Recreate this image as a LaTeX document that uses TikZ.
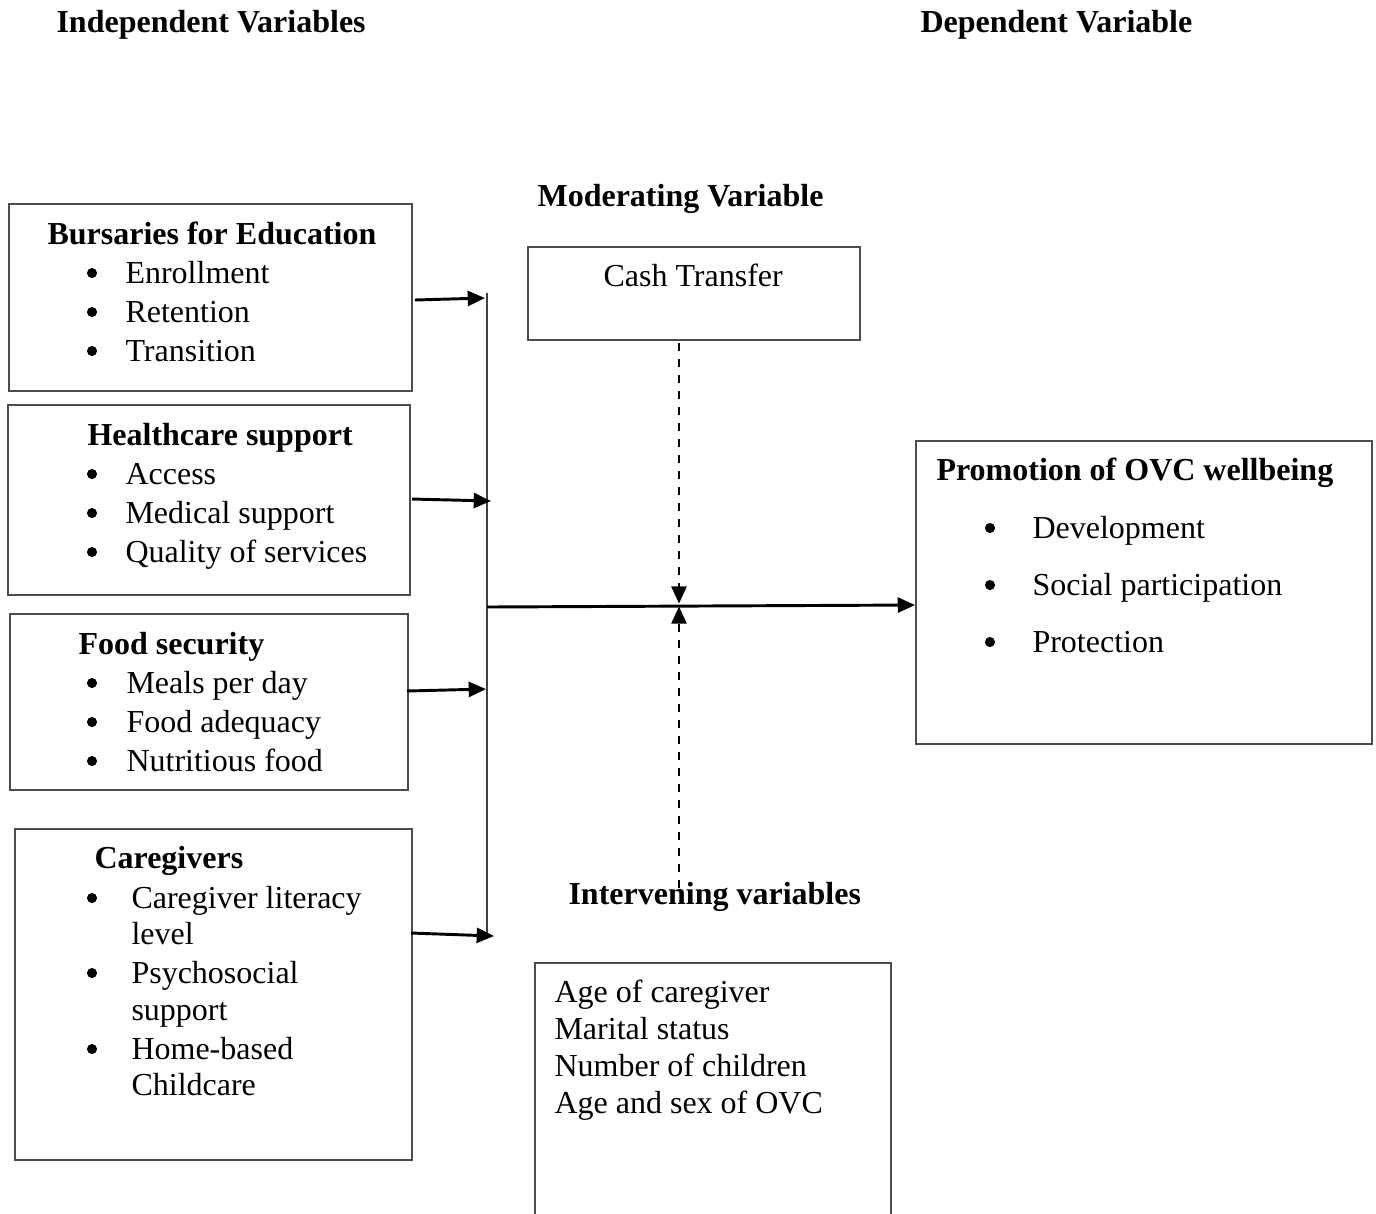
\documentclass[tikz,border=0pt]{standalone}
\usepackage{fontspec}
\setmainfont{Liberation Serif}
\usetikzlibrary{arrows.meta,fit}
\tikzset{
  box/.style={draw=black!70, line width=0.7pt, inner sep=0pt},
  txt/.style={anchor=base west, inner sep=0pt, font=\fontsize{12}{14}\selectfont, yshift=-0.4pt},
  hd/.style={txt, font=\fontsize{12}{14}\selectfont\bfseries},
  bul/.style={circle, fill=black, inner sep=0pt, minimum size=3.8pt},
  arr/.style={line width=1.1pt, -{Triangle[length=6.5pt,width=5.6pt]}},
  dsh/.style={line width=1.1pt, dash pattern=on 3pt off 3pt, -{Triangle[length=6.5pt,width=5.6pt]}},
  vline/.style={draw=black!75, line width=0.7pt}
}
\begin{document}
\begin{tikzpicture}[x=0.375pt,y=-0.375pt]
\clip (0,0) rectangle (1376,1213);
\fill[white] (0,0) rectangle (1376,1213);

% headings
\node[hd] (hind) at (56,31) {Independent Variables};
\node[hd] (hdep) at (920,31) {Dependent Variable};
\node[hd] (hmod) at (537,205) {Moderating Variable};
\node[hd] (hint) at (568,903) {Intervening variables};

% box 1
\node[box, fit={(9,204) (412,391)}] (b1) {};
\node[hd] (t1) at (47,243) {Bursaries for Education};
\node[bul] (b1a) at (92,273) {}; \node[txt] (i1a) at (125,282) {Enrollment};
\node[bul] (b1b) at (92,312) {}; \node[txt] (i1b) at (125,321) {Retention};
\node[bul] (b1c) at (92,351) {}; \node[txt] (i1c) at (125,360) {Transition};

% box 2
\node[box, fit={(8,405) (410,595)}] (b2) {};
\node[hd] (t2) at (87,444) {Healthcare support};
\node[bul] (b2a) at (92,474) {}; \node[txt] (i2a) at (125,483) {Access};
\node[bul] (b2b) at (92,513) {}; \node[txt] (i2b) at (125,522) {Medical support};
\node[bul] (b2c) at (92,552) {}; \node[txt] (i2c) at (125,561) {Quality of services};

% box 3
\node[box, fit={(10,614) (408,790)}] (b3) {};
\node[hd] (t3) at (78,653) {Food security};
\node[bul] (b3a) at (92,683) {}; \node[txt] (i3a) at (126,692) {Meals per day};
\node[bul] (b3b) at (92,722) {}; \node[txt] (i3b) at (126,731) {Food adequacy};
\node[bul] (b3c) at (92,761) {}; \node[txt] (i3c) at (126,770) {Nutritious food};

% box 4
\node[box, fit={(15,829) (412,1160)}] (b4) {};
\node[hd] (t4) at (94,867) {Caregivers};
\node[bul] (b4a) at (92,898) {}; \node[txt] (i4a) at (131,907) {Caregiver literacy};
\node[txt] (i4a2) at (131,943) {level};
\node[bul] (b4b) at (92,973) {}; \node[txt] (i4b) at (131,982) {Psychosocial};
\node[txt] (i4b2) at (131,1019) {support};
\node[bul] (b4c) at (92,1049) {}; \node[txt] (i4c) at (131,1058) {Home-based};
\node[txt] (i4c2) at (131,1094) {Childcare};

% moderating box
\node[box, fit={(528,247) (860,340)}] (mod) {};
\node[txt] (tmod) at (603,285) {Cash Transfer};

% intervening box (open at bottom, cut by page edge)
\node[box, fit={(535,963) (891,1250)}] (int) {};
\node[txt] (v1) at (554,1001) {Age of caregiver};
\node[txt] (v2) at (554,1038) {Marital status};
\node[txt] (v3) at (554,1075) {Number of children};
\node[txt] (v4) at (554,1112) {Age and sex of OVC};

% dependent box
\node[box, fit={(916,441) (1372,744)}] (dep) {};
\node[hd] (tdep) at (936,479) {Promotion of OVC wellbeing};
\node[bul] (d1) at (990,528) {}; \node[txt] (j1) at (1032,537) {Development};
\node[bul] (d2) at (990,585) {}; \node[txt] (j2) at (1032,594) {Social participation};
\node[bul] (d3) at (990,642) {}; \node[txt] (j3) at (1032,651) {Protection};

% connectors
\coordinate (vt) at (487,293);
\coordinate (vb) at (487,935);
\draw[vline] (vt) -- (vb);

\coordinate (s1) at (415,300); \coordinate (e1) at (485,298);
\coordinate (s2) at (412,499); \coordinate (e2) at (491,501);
\coordinate (s3) at (407,691); \coordinate (e3) at (486,689);
\coordinate (s4) at (411,933); \coordinate (e4) at (494,936);
\draw[arr] (s1) -- (e1);
\draw[arr] (s2) -- (e2);
\draw[arr] (s3) -- (e3);
\draw[arr] (s4) -- (e4);

\coordinate (hs) at (487,607);
\draw[arr] (hs) -- (dep.west |- 0,605);

\coordinate (cx) at (679,605);
\coordinate (dtop) at (679,343);
\coordinate (dbot) at (679,888);
\draw[dsh] (dtop) -- ([yshift=0.5pt]cx);
\draw[dsh] (dbot) -- ([yshift=-0.5pt]cx);
\end{tikzpicture}
\end{document}
